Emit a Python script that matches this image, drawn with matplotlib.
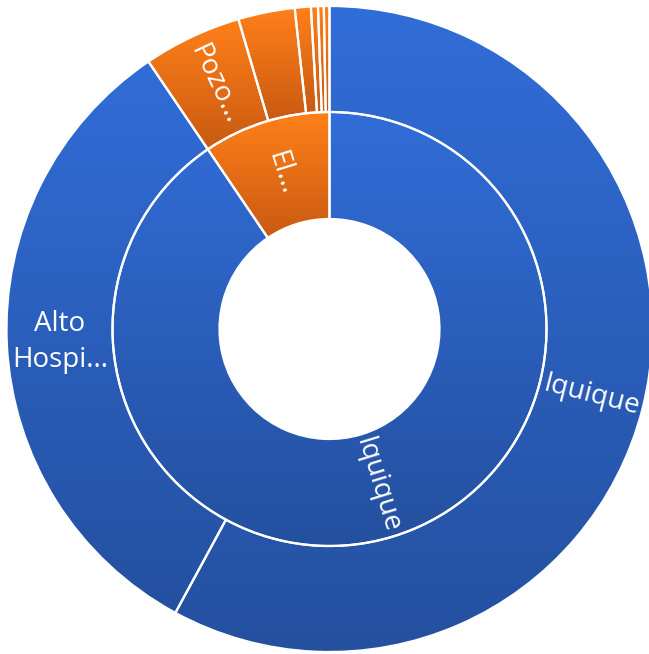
import matplotlib
matplotlib.use("Agg")
import matplotlib.pyplot as plt
from matplotlib.patches import Wedge
from matplotlib.colors import LinearSegmentedColormap
import numpy as np

# ---- data ----
parents = ["Iquique", "El Tamarugal"]
children = ["Iquique", "Alto Hospicio", "Pozo Almonte", "Pica", "Huara",
            "Colchane", "Camiña", "Otros"]
child_parent = [0, 0, 1, 1, 1, 1, 1, 1]
child_values = [57.9, 32.6, 4.92, 2.83, 0.80, 0.35, 0.29, 0.28]
child_labels = ["Iquique", "Alto\nHospi...", "Pozo...", "", "", "", "", ""]
parent_labels = ["Iquique", "El..."]

parent_values = [sum(v for v, p in zip(child_values, child_parent) if p == i)
                 for i in range(len(parents))]

# ---- style ----
W, H = 649, 654
cx, cy = 329.5, 329.0          # centre in image pixels
R_out, R_mid, R_in = 323, 217, 110
grad = {0: ("#316dd8", "#24509f"), 1: ("#ff8019", "#c95a12")}

fig = plt.figure(figsize=(W / 100, H / 100), dpi=100)
ax = fig.add_axes([0, 0, 1, 1])
ax.set_xlim(-cx, W - cx)
ax.set_ylim(-(H - cy), cy)
ax.set_aspect("equal")
ax.axis("off")

font = ["Open Sans", "DejaVu Sans"]
total = sum(child_values)


def draw_wedge(a0, a1, r0, r1, colors):
    # a0,a1 clockwise degrees from 12 o'clock
    t1, t2 = 90 - a1, 90 - a0
    w = Wedge((0, 0), r1, t1, t2, width=r1 - r0, facecolor=colors[0],
              edgecolor="none")
    ax.add_patch(w)
    ext = w.get_path().get_extents()
    cmap = LinearSegmentedColormap.from_list("g", list(colors))
    img = np.linspace(0, 1, 256).reshape(-1, 1)
    im = ax.imshow(img, cmap=cmap, extent=[ext.x0, ext.x1, ext.y0, ext.y1],
                   origin="upper", aspect="auto", interpolation="bilinear",
                   zorder=1)
    im.set_clip_path(w)
    ax.add_patch(Wedge((0, 0), r1, t1, t2, width=r1 - r0, facecolor="none",
                       edgecolor="white", linewidth=1.6, zorder=3))


def label(text, a, r, radial=True, size=20):
    th = np.deg2rad(90 - a)
    x, y = r * np.cos(th), r * np.sin(th)
    if radial:
        rot = 90 - a
        if rot < -90:
            rot += 180
        if rot > 90:
            rot -= 180
    else:
        rot = 0
    ax.text(x, y, text, rotation=rot, rotation_mode="anchor", ha="center",
            va="center", color="white", fontsize=size, family=font,
            linespacing=1.4, zorder=5)


# inner ring
a = 0.0
for i, v in enumerate(parent_values):
    span = 360 * v / total
    draw_wedge(a, a + span, R_in, R_mid, grad[i])
    label(parent_labels[i], a + span / 2, (R_in + R_mid) / 2)
    a += span

# outer ring
a = 0.0
for name, p, v, lab in zip(children, child_parent, child_values, child_labels):
    span = 360 * v / total
    draw_wedge(a, a + span, R_mid, R_out, grad[p])
    if lab:
        label(lab, a + span / 2, (R_mid + R_out) / 2, radial=("\n" not in lab))
    a += span

fig.savefig("out.png", dpi=100, facecolor="white")
